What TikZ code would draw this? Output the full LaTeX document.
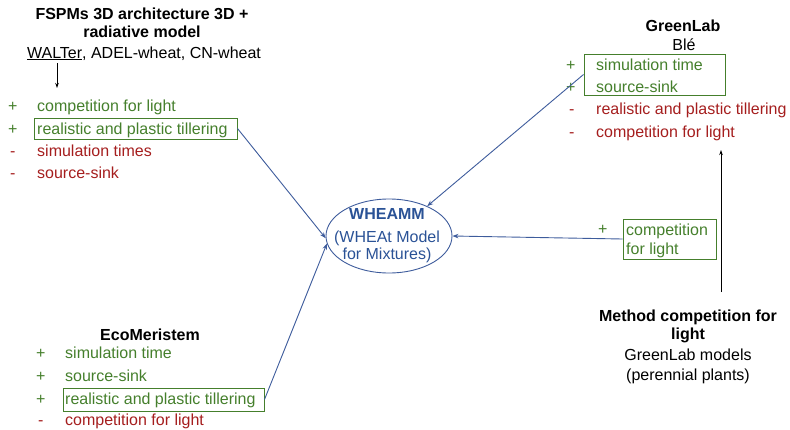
\documentclass[tikz,border=0pt]{standalone}
\usepackage{fontspec}
\setmainfont{Liberation Sans}
\usetikzlibrary{shapes.geometric,arrows.meta}
\definecolor{pgreen}{HTML}{457F2C}
\definecolor{pred}{HTML}{A51E1E}
\definecolor{pblue}{HTML}{2A5296}
\definecolor{eblue}{HTML}{3E5C9C}
\begin{document}
\begin{tikzpicture}[x=1pt,y=-1pt,
  every node/.style={inner sep=0pt,font=\fontsize{16}{18}\selectfont},
  txt/.style={anchor=base west},
  ctr/.style={anchor=base},
  bold/.style={anchor=base,font=\fontsize{16}{18}\selectfont\bfseries},
  good/.style={txt,text=pgreen},
  bad/.style={txt,text=pred},
  gbox/.style={draw=pgreen,line width=1pt,rectangle},
  conn/.style={draw=eblue,line width=0.9pt,-{Stealth[length=6pt,width=4.5pt]}},
  blk/.style={draw=black,line width=0.9pt,-{Stealth[length=5pt,width=3.5pt]}}]
\useasboundingbox (0,0) rectangle (790,429);

% FSPMs block
\node[bold] (f1) at (142,19) {FSPMs 3D architecture 3D +};
\node[bold] (f2) at (142,37) {radiative model};
\node[ctr] (f3) at (144,58) {\underline{WALTer}, ADEL-wheat, CN-wheat};
\coordinate (fa) at (57,63);
\coordinate (fb) at (57,88);
\draw[blk] (fa) -- (fb);
\node[good] (p1) at (8,111) {+};
\node[good] (t1) at (37,111) {competition for light};
\node[good] (p2) at (8,134) {+};
\node[gbox,minimum width=203pt,minimum height=21pt] (lbox) at (135.5,128.5) {};
\node[good] (t2) at (37,134) {realistic and plastic tillering};
\node[bad] (m1) at (10,156) {-};
\node[bad] (t3) at (37,156) {simulation times};
\node[bad] (m2) at (10,178) {-};
\node[bad] (t4) at (37,178) {source-sink};

% WHEAMM
\node[draw=eblue,line width=0.9pt,ellipse,minimum width=126pt,minimum height=74pt] (wh) at (389,236) {};
\node[anchor=base,text=pblue,font=\fontsize{16}{18}\selectfont\bfseries] (w1) at (387,219) {WHEAMM};
\node[anchor=base,text=pblue] (w2) at (387,242) {(WHEAt Model};
\node[anchor=base,text=pblue] (w3) at (387,259) {for Mixtures)};

% GreenLab block
\node[bold] (g1) at (683,31) {GreenLab};
\node[ctr] (g2) at (684,50) {Blé};
\node[gbox,minimum width=141pt,minimum height=41pt] (gb) at (654.5,74.5) {};
\node[good] (gp1) at (566,70) {+};
\node[good] (gt1) at (596,70) {simulation time};
\node[good] (gp2) at (566,92) {+};
\node[good] (gt2) at (596,92) {source-sink};
\node[bad] (gm1) at (569,114) {-};
\node[bad] (gt3) at (596,114) {realistic and plastic tillering};
\node[bad] (gm2) at (569,137) {-};
\node[bad] (gt4) at (596,137) {competition for light};

% competition box
\node[gbox,minimum width=93pt,minimum height=40pt] (cb) at (669.5,239) {};
\node[good] (cp) at (598,234) {+};
\node[good] (ct1) at (626,235) {competition};
\node[good] (ct2) at (626,254) {for light};

% Method block
\node[bold] (mt1) at (688,321) {Method competition for};
\node[bold] (mt2) at (688,339) {light};
\node[ctr] (mt3) at (688,360) {GreenLab models};
\node[ctr] (mt4) at (688,380) {(perennial plants)};
\coordinate (ma) at (721,292);
\coordinate (mb) at (721,150);
\draw[blk] (ma) -- (mb);

% EcoMeristem block
\node[bold] (e1) at (150,340) {EcoMeristem};
\node[good] (ep1) at (36,358) {+};
\node[good] (et1) at (65,358) {simulation time};
\node[good] (ep2) at (36,381) {+};
\node[good] (et2) at (65,381) {source-sink};
\node[gbox,minimum width=201pt,minimum height=23pt] (eb) at (163.5,399.5) {};
\node[good] (ep3) at (36,404) {+};
\node[good] (et3) at (65,404) {realistic and plastic tillering};
\node[bad] (em1) at (38,425) {-};
\node[bad] (et4) at (65,425) {competition for light};

% connectors
\draw[conn] (lbox.east) -- (wh.182);
\draw[conn] (eb.east) -- (wh.187);
\draw[conn] (gb.west) -- (wh.38);
\draw[conn] (cb.west) -- (wh.east);
\end{tikzpicture}
\end{document}
